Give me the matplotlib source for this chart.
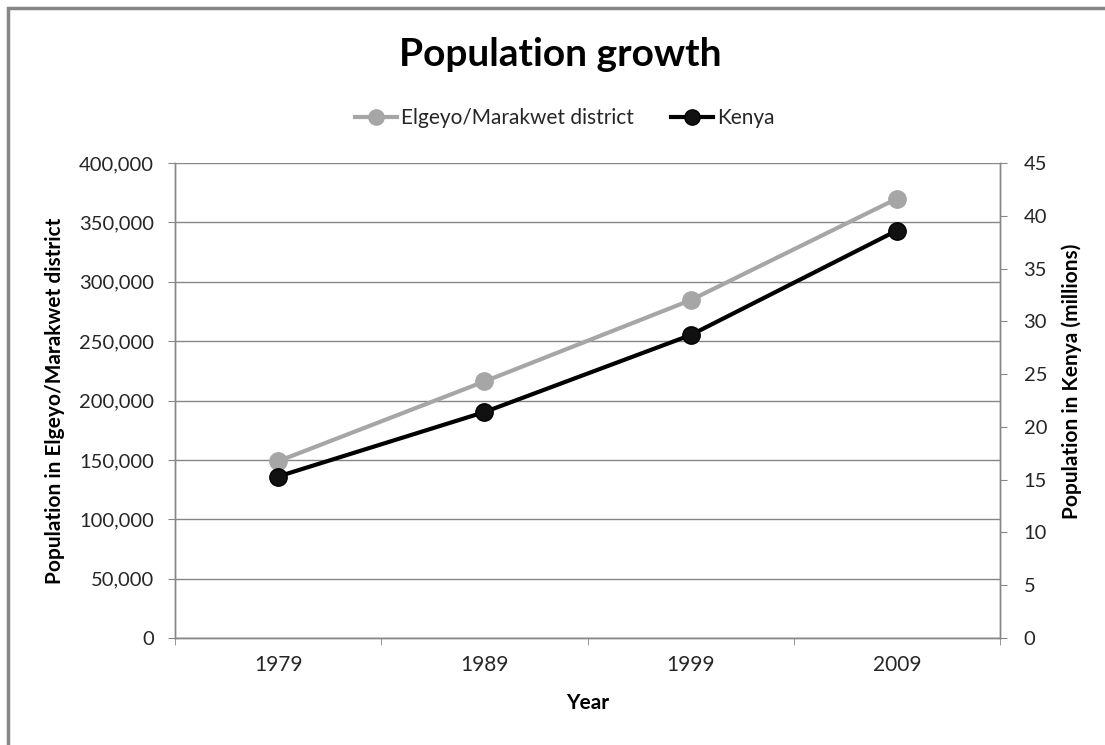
import matplotlib
matplotlib.use("Agg")
import matplotlib.pyplot as plt
import matplotlib.ticker as mticker
from matplotlib.patches import Rectangle
from matplotlib.lines import Line2D

plt.rcParams['font.family'] = ['Lato', 'DejaVu Sans']

years = ['1979', '1989', '1999', '2009']
district_pop = [148868, 216000, 284494, 369998]
kenya_pop_millions = [15.3, 21.4, 28.7, 38.6]

district_label = 'Elgeyo/Marakwet district'
kenya_label = 'Kenya'

grey = '#a6a6a6'
axis_grey = '#868686'
text_col = '#262626'
fs = 15

fig = plt.figure(figsize=(11.05, 7.45), dpi=100)
ax = fig.add_axes([175 / 1105, 1 - 638 / 745, 825 / 1105, 475 / 745])
ax2 = ax.twinx()

x = list(range(len(years)))
ax.plot(x, district_pop, color=grey, lw=3, marker='o', ms=12.5,
        mec=grey, mfc=grey, zorder=3)
ax2.plot(x, kenya_pop_millions, color='black', lw=3, marker='o', ms=12.5,
         mec='black', mfc='#111111', zorder=3)

# left axis
ax.set_ylim(0, 400000)
ax.yaxis.set_major_locator(mticker.MultipleLocator(50000))
ax.yaxis.set_major_formatter(mticker.FuncFormatter(lambda v, p: f'{v:,.0f}'))
ax.grid(axis='y', color=axis_grey, lw=1)
ax.set_axisbelow(True)

# right axis
ax2.set_ylim(0, 45)
ax2.yaxis.set_major_locator(mticker.MultipleLocator(5))

# categories with tick marks between them
ax.set_xlim(-0.5, len(years) - 0.5)
ax.set_xticks(x)
ax.set_xticklabels(years)
ax.set_xticks([i - 0.5 for i in range(len(years) + 1)], minor=True)
ax.tick_params(axis='x', which='major', length=0, pad=12,
               labelsize=fs, labelcolor=text_col)
ax.tick_params(axis='x', which='minor', length=5, color=axis_grey, direction='out')

for a in (ax, ax2):
    a.spines['top'].set_visible(False)
    for side in ('left', 'right', 'bottom'):
        a.spines[side].set_color(axis_grey)
        a.spines[side].set_linewidth(1)
    a.tick_params(axis='y', length=5, color=axis_grey, direction='out',
                  labelsize=14.5, labelcolor=text_col, pad=10)
ax2.tick_params(axis='y', pad=12)

ax.set_xlabel('Year', fontsize=fs, fontweight='bold')
ax.set_ylabel('Population in Elgeyo/Marakwet district', fontsize=fs,
              fontweight='bold')
ax2.set_ylabel('Population in Kenya (millions)', fontsize=fs,
               fontweight='bold')
ax.xaxis.set_label_coords(0.5, (638 - 703) / 475)
ax.yaxis.set_label_coords((55 - 175) / 825, 0.5)
ax2.yaxis.set_label_coords((1072 - 175) / 825, (638 - 381) / 475)
for lab in (ax.xaxis.label, ax.yaxis.label, ax2.yaxis.label):
    lab.set_verticalalignment('center')

fig.text(560 / 1105, 1 - 55 / 745, 'Population growth', ha='center', va='center',
         fontsize=28, fontweight='bold')

handles = [
    Line2D([], [], color=grey, lw=3, marker='o', ms=11, mfc=grey, mec=grey),
    Line2D([], [], color='black', lw=3, marker='o', ms=11, mfc='#111111', mec='black'),
]
fig.legend(handles, [district_label, kenya_label], loc='center',
           bbox_to_anchor=(565 / 1105, 1 - 118 / 745), ncol=2, frameon=False,
           fontsize=fs, handlelength=2.0, handletextpad=0.2, columnspacing=1.8,
           labelcolor=text_col)

# chart frame
fig.patches.append(Rectangle((8 / 1105, -0.1), 1.2, 1 - 8 / 745 + 0.1,
                             transform=fig.transFigure, fill=False,
                             edgecolor=axis_grey, lw=2.5))

fig.savefig('out.png', dpi=100)
